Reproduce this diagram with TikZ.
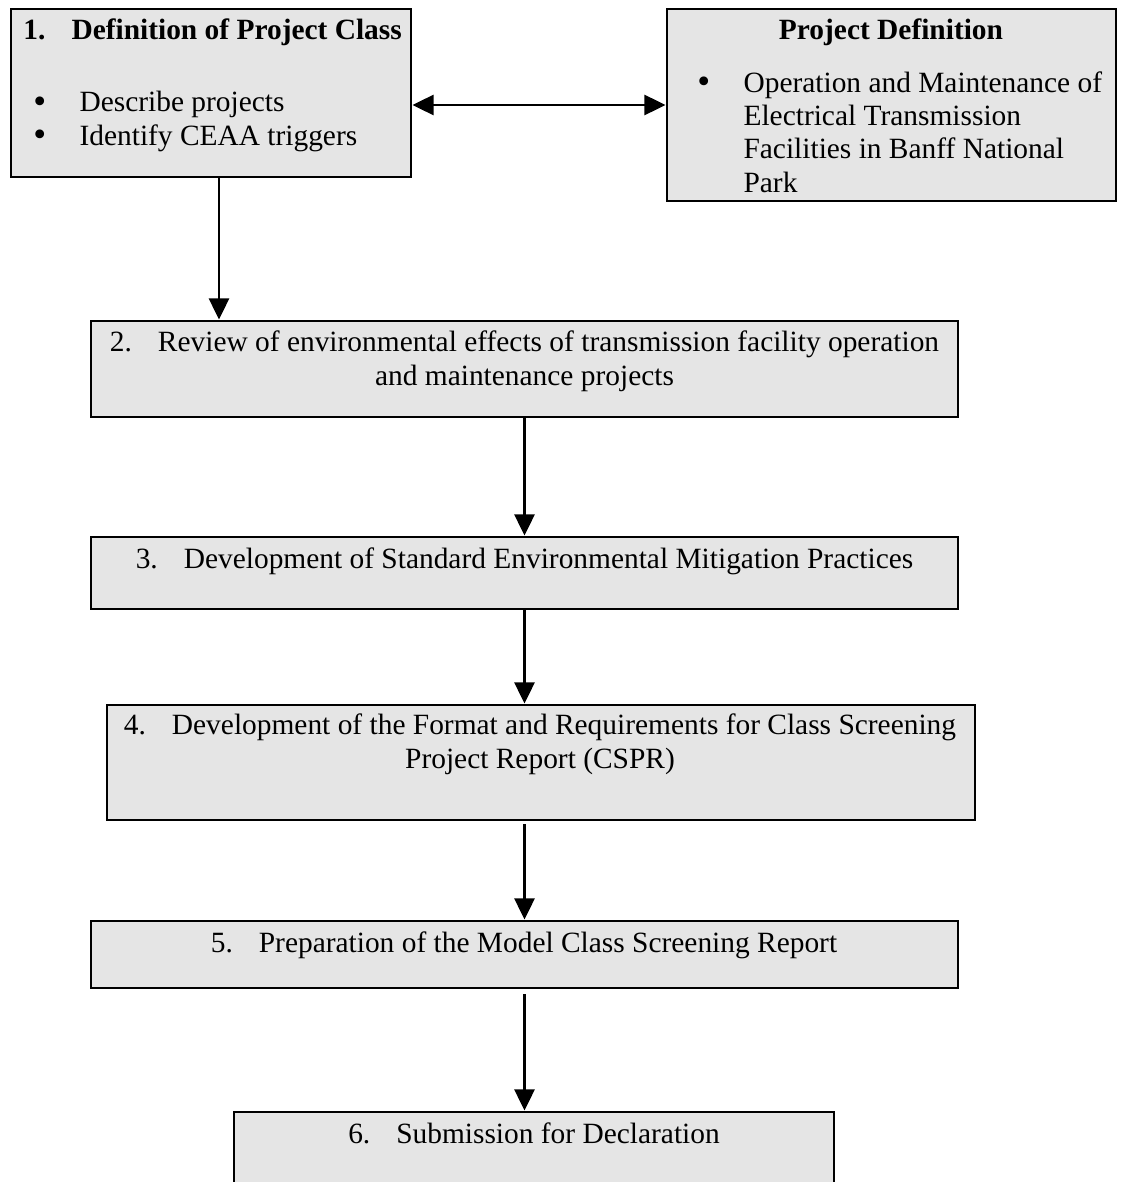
\documentclass[tikz,border=0pt]{standalone}
\usepackage{fontspec}
\setmainfont{Liberation Serif}
\usepackage{tikz}
\usetikzlibrary{calc}
\usetikzlibrary{arrows.meta}
\definecolor{boxgray}{RGB}{229,229,229}
\newcommand{\numlabel}[1]{\makebox[19.6pt][l]{#1.}}
\newcommand{\bitem}{\makebox[18.8pt][l]{\raisebox{-0.6pt}{\fontsize{15pt}{15pt}\selectfont\textbullet}}}

\begin{document}
\begin{tikzpicture}[x=0.408pt,y=-0.408pt,
        font=\fontsize{12pt}{13.6pt}\selectfont,
        box/.style={draw,fill=boxgray,line width=1.2pt,inner sep=0pt},
        txt/.style={inner sep=0pt,anchor=base},
        flow/.style={line width=0.9pt,>={Triangle[length=8.6pt,width=8.2pt]}}]
        \useasboundingbox (0,0) rectangle (1120,1182);
        % Boxes of the steps
        \node (box1) [box,minimum width=400*0.408pt,minimum height=168*0.408pt] at (211,93) {};
        \node (boxpd) [box,minimum width=449*0.408pt,minimum height=192*0.408pt] at (891.5,105) {};
        \node (box2) [box,minimum width=867*0.408pt,minimum height=96*0.408pt] at (524.5,369) {};
        \node (box3) [box,minimum width=867*0.408pt,minimum height=72*0.408pt] at (524.5,573) {};
        \node (box4) [box,minimum width=868*0.408pt,minimum height=115*0.408pt] at (541,762.5) {};
        \node (box5) [box,minimum width=867*0.408pt,minimum height=67*0.408pt] at (524.5,954.5) {};
        \node (box6) [box,minimum width=600*0.408pt,minimum height=98*0.408pt] at (534,1161) {}; % runs off the page
        % Texts of the boxes (base = baseline of the last line)
        \node (t1) [txt,anchor=base west] at (23,39) {\textbf{\numlabel{1}Definition of Project Class}};
        \node (l1) [txt,anchor=base west,align=left] at (33,145) {\bitem Describe projects\\\bitem Identify CEAA triggers};
        \node (tpd) [txt] at (891,39) {\textbf{Project Definition}};
        \node (lpd) [txt,anchor=base west,align=left] at (697,192) {\bitem Operation and Maintenance of\\
            \hspace*{18.8pt}Electrical Transmission\\\hspace*{18.8pt}Facilities in Banff National\\\hspace*{18.8pt}Park};
        \node (t2) [txt,align=center] at (524.5,385) {\numlabel{2}Review of environmental effects of transmission facility operation\\and maintenance projects};
        \node (t3) [txt] at (524.5,568) {\numlabel{3}Development of Standard Environmental Mitigation Practices};
        \node (t4) [txt,align=center] at (540,768) {\numlabel{4}Development of the Format and Requirements for Class Screening\\Project Report (CSPR)};
        \node (t5) [txt] at (524,952) {\numlabel{5}Preparation of the Model Class Screening Report};
        \node (t6) [txt] at (534,1143) {\numlabel{6}Submission for Declaration};
        % Arrows between the boxes
        \draw[flow,<->] (box1.east |- boxpd.west) -- (boxpd.west);
        \draw[flow,->] ($(box1.south)+(8,0)$) -- ($(box1.south |- box2.north)+(8,0)$);
        \draw[flow,->] (box2.south) -- (box2.south |- box3.north);
        \draw[flow,->] (box3.south) -- (box3.south |- box4.north);
        \draw[flow,->,shorten <=1.2pt] (box5.north |- box4.south) -- (box5.north);
        \draw[flow,->,shorten <=2pt] (box5.south) -- (box5.south |- box6.north);
\end{tikzpicture}
\end{document}
